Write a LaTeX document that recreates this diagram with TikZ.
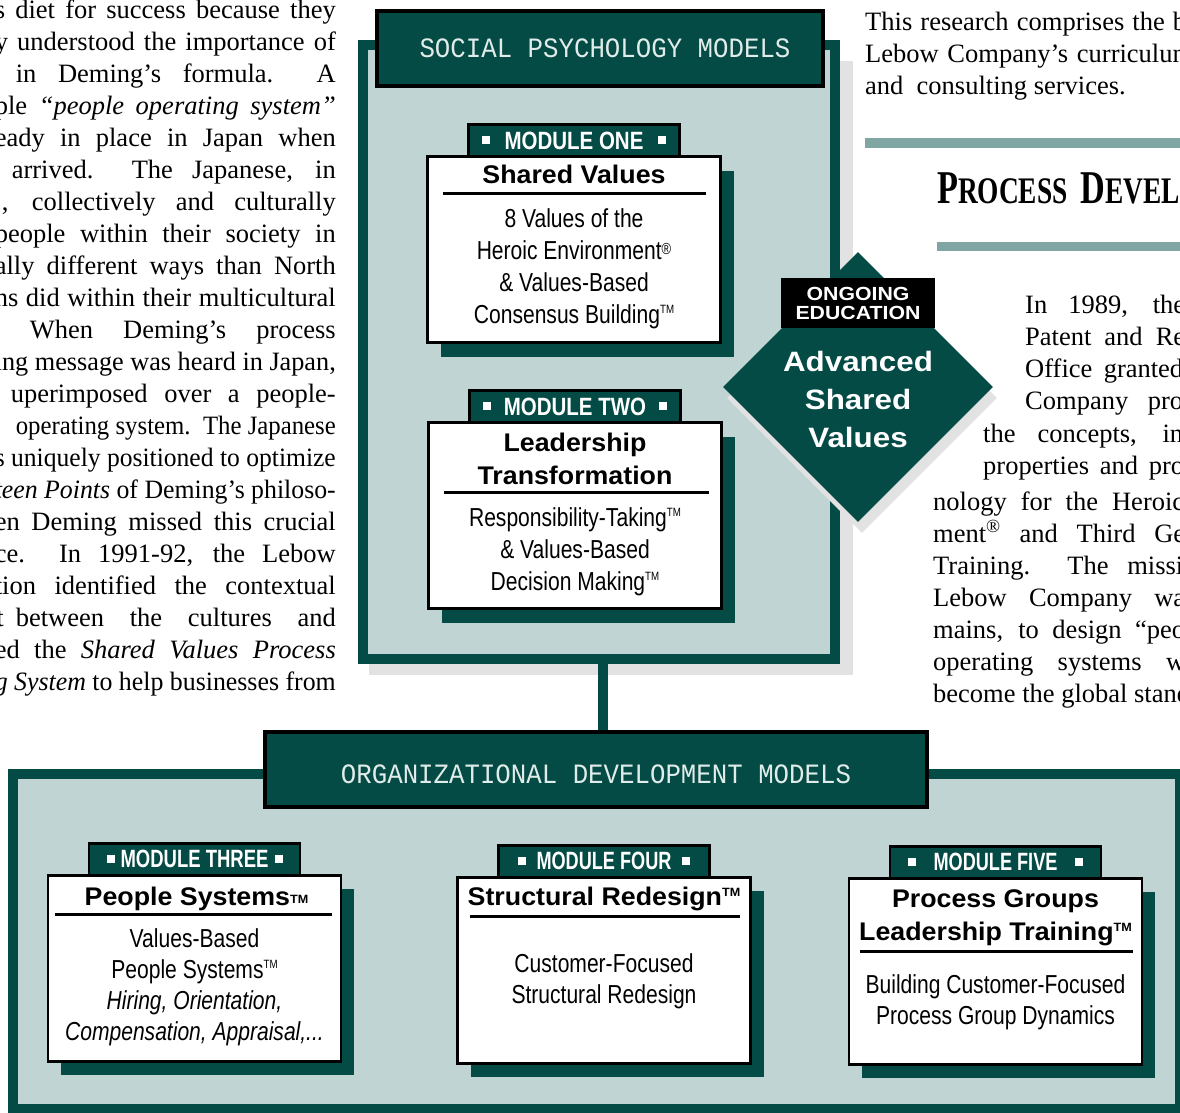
\documentclass[tikz,border=0pt]{standalone}
\usepackage{fontspec}
\setmainfont{Liberation Serif}
\setsansfont{Liberation Sans}
\newfontfamily\condsans[FakeStretch=0.81]{Liberation Sans}
\newfontfamily\widesans[FakeStretch=1.12]{Liberation Sans}
\newfontfamily\titlesans[FakeStretch=1.05]{Liberation Sans}
\newfontfamily\titlemono[FakeStretch=0.92]{Liberation Mono}
\newfontfamily\headserif[FakeStretch=0.73]{Liberation Serif}
\usepackage{graphicx}
\usepackage{tikz}
\usetikzlibrary{shapes.geometric,positioning,calc,shadows}
\definecolor{deepteal}{RGB}{4,74,69}
\definecolor{panelgray}{RGB}{192,212,211}
\definecolor{shadowgray}{RGB}{226,226,226}
\definecolor{barteal}{RGB}{127,166,162}
\definecolor{titlemint}{RGB}{224,236,233}

\newlength{\natw}
\newcommand{\fitline}[2]{\settowidth{\natw}{#2}\ifdim\natw>#1pt\relax\resizebox{#1pt}{\height}{#2}\else\makebox[#1pt][s]{#2}\fi}
\newcommand{\sqr}{\raisebox{5pt}{\rule{8pt}{8pt}}}
\newcommand{\modtag}[3]{\sqr\hspace{#1}\scalebox{#2}[1]{#3}\hspace{#1}\sqr}
\newcommand{\tmk}[1][9.5pt]{\raisebox{#1}{\fontsize{12}{12}\selectfont TM}}
\newcommand{\regk}{\raisebox{5pt}{\fontsize{16}{16}\selectfont ®}}

\begin{document}
\begin{tikzpicture}[
    x=1pt, y=-1pt,
    leftline/.style={anchor=base east, inner sep=0pt, font=\fontsize{26.5}{32}\selectfont},
    rightline/.style={anchor=base west, inner sep=0pt, font=\fontsize{26.5}{32}\selectfont},
    panel/.style={draw=deepteal, fill=panelgray, line width=10pt, inner sep=0pt, outer sep=0pt},
    paneltitle/.style={draw=black, fill=deepteal, line width=4pt, minimum height=75pt, inner sep=0pt, outer sep=0pt, text=titlemint, font=\titlemono\fontsize{28}{28}\selectfont},
    modbox/.style={draw=black, fill=white, line width=2.5pt, minimum width=293pt, minimum height=186pt, inner sep=0pt, outer sep=0pt,
        drop shadow={shadow xshift=13pt, shadow yshift=-14pt, fill=deepteal, opacity=1}},
    modtab/.style={draw=black, fill=deepteal, line width=2.5pt, minimum width=211pt, minimum height=32pt, inner sep=0pt, outer sep=0pt, text=white, font=\sffamily\bfseries\fontsize{25}{25}\selectfont},
    modtitle/.style={anchor=north, inner sep=0pt, align=center, font=\titlesans\bfseries\fontsize{25.5}{33}\selectfont},
    modbody/.style={anchor=north, inner sep=0pt, align=center, font=\condsans\fontsize{26}{32}\selectfont},
    titlerule/.style={line width=3pt, draw=black},
    link/.style={draw=deepteal, line width=10pt},
    bar/.style={fill=barteal}
]
\useasboundingbox (0,0) rectangle (1180,1112);
\clip (0,0) rectangle (1180,1112);

% left column of body text
\node[leftline] (l1) at (336,18) {\fitline{341}{s diet for success because they}};
\node[leftline] (l2) at (336,50) {\fitline{341}{y understood the importance of}};
\node[leftline] (l3) at (336,82) {\fitline{320}{in Deming’s formula.\ \ A}};
\node[leftline] (l4) at (336,114) {\fitline{341}{ple \textit{“people operating system”}}};
\node[leftline] (l5) at (336,146) {\fitline{341}{eady in place in Japan when}};
\node[leftline] (l6) at (336,178) {\fitline{324}{arrived.\ \ The Japanese, in}};
\node[leftline] (l7) at (336,210) {\fitline{334}{, collectively and culturally}};
\node[leftline] (l8) at (336,242) {\fitline{341}{people within their society in}};
\node[leftline] (l9) at (336,274) {\fitline{341}{ally different ways than North}};
\node[leftline] (l10) at (336,306) {\fitline{341}{ns did within their multicultural}};
\node[leftline] (l11) at (336,338) {\fitline{306}{When Deming’s process}};
\node[leftline] (l12) at (336,370) {\fitline{341}{ing message was heard in Japan,}};
\node[leftline] (l13) at (336,402) {\fitline{325}{uperimposed over a people-}};
\node[leftline] (l14) at (336,434) {\fitline{320}{operating system.\ \ The Japanese}};
\node[leftline] (l15) at (336,466) {\fitline{341}{s uniquely positioned to optimize}};
\node[leftline] (l16) at (336,498) {\fitline{341}{\textit{teen Points} of Deming’s philoso-}};
\node[leftline] (l17) at (336,530) {\fitline{341}{en Deming missed this crucial}};
\node[leftline] (l18) at (336,562) {\fitline{341}{ce.\ \ In 1991-92, the Lebow}};
\node[leftline] (l19) at (336,594) {\fitline{341}{tion identified the contextual}};
\node[leftline] (l20) at (336,626) {t\hspace{12pt}\fitline{320}{between the cultures and}};
\node[leftline] (l21) at (336,658) {\fitline{341}{ed the \textit{Shared Values Process}}};
\node[leftline] (l22) at (336,690) {\fitline{341}{\textit{g System} to help businesses from}};

% right column of body text
\node[rightline] (r1) at (865,30) {\fitline{321}{This research comprises the b}};
\node[rightline] (r2) at (865,62) {\fitline{328}{Lebow Company’s curriculum}};
\node[rightline] (r3) at (865,94) {and\ \ consulting services.};
\fill[bar] (865,138) rectangle (1190,148);
\node[anchor=base west, inner sep=0pt, font=\headserif\bfseries] (head) at (937,203)
    {{\fontsize{47}{47}\selectfont P}{\fontsize{37.5}{47}\selectfont ROCESS}\hspace{13pt}{\fontsize{47}{47}\selectfont D}{\fontsize{37.5}{47}\selectfont EVELOPMENT}};
\fill[bar] (937,242) rectangle (1190,251);
\node[rightline] (r4) at (1025,313) {\fitline{160}{In 1989, the}};
\node[rightline] (r5) at (1025,345) {\fitline{160}{Patent and Re}};
\node[rightline] (r6) at (1025,377) {\fitline{158}{Office granted}};
\node[rightline] (r7) at (1025,409) {\fitline{158}{Company pro}};
\node[rightline] (r8) at (983,442) {\fitline{200}{the concepts, in}};
\node[rightline] (r9) at (983,474) {\fitline{201}{properties and pro}};
\node[rightline] (r10) at (933,510) {\fitline{251}{nology for the Heroic}};
\node[rightline] (r11) at (933,542) {\fitline{252}{ment\textsuperscript{®} and Third Ge}};
\node[rightline] (r12) at (933,574) {\fitline{250}{Training.\ \ The missi}};
\node[rightline] (r13) at (933,606) {\fitline{252}{Lebow Company wa}};
\node[rightline] (r14) at (933,638) {\fitline{252}{mains, to design “peo}};
\node[rightline] (r15) at (933,670) {\fitline{252}{operating systems w}};
\node[rightline] (r16) at (933,702) {become the global stand};

% lower panel
\node[panel, minimum width=1167pt, minimum height=335pt] (orgpanel) at (596.5,941.5) {};
\node[paneltitle, minimum width=662pt, text height=28.5pt, text depth=0pt] (orgtitle) at (596,769.5) {ORGANIZATIONAL DEVELOPMENT MODELS};

% upper panel
\fill[shadowgray] (369,61) rectangle (853,675);
\node[panel, minimum width=472pt, minimum height=614pt] (social) at (599,352) {};
\node[paneltitle, minimum width=446pt] (socialtitle) at (600,48.5) {\hspace*{10pt}SOCIAL PSYCHOLOGY MODELS};
\draw[link] ([xshift=4pt]social.south) -- ([xshift=4pt,yshift=2pt]social.south |- orgtitle.north);

% module one
\node[modbox] (m1) at (574,249.5) {};
\node[modtab, above=0pt of m1] (m1tab) {\modtag{15pt}{0.82}{MODULE ONE}};
\node[modtitle] (m1title) at ($(m1.north)+(0,8)$) {Shared Values};
\draw[titlerule] ($(m1.north west)+(15,36.5)$) -- ($(m1.north east)+(-15,36.5)$);
\node[modbody] (m1text) at ($(m1.north)+(0,51.6)$)
    {8 Values of the\\Heroic Environment\regk\\\& Values-Based\\Consensus Building\tmk};

% module two
\node[modbox] (m2) at (575,515.5) {};
\node[modtab, above=0pt of m2] (m2tab) {\modtag{13pt}{0.82}{MODULE TWO}};
\node[modtitle] (m2title) at ($(m2.north)+(0,10)$) {Leadership\\Transformation};
\draw[titlerule] ($(m2.north west)+(15,69.5)$) -- ($(m2.north east)+(-13,69.5)$);
\node[modbody] (m2text) at ($(m2.north)+(0,84.6)$)
    {Responsibility-Taking\tmk\\\& Values-Based\\Decision Making\tmk};

% module three
\node[modbox] (m3) at (194.5,968.25) {};
\node[modtab, above=0pt of m3] (m3tab) {\modtag{6pt}{0.74}{MODULE THREE}};
\node[modtitle] (m3title) at ($(m3.north)+(2,11.2)$) {People Systems\tmk[2pt]};
\draw[titlerule] ($(m3.north west)+(7,38.75)$) -- ($(m3.north east)+(-9,38.75)$);
\node[modbody, font=\condsans\fontsize{26}{31}\selectfont] (m3text) at ($(m3.north)+(0,52.85)$)
    {Values-Based\\People Systems\tmk\\\textit{Hiring, Orientation,}\\\textit{Compensation, Appraisal,...}};

% module four
\node[modbox] (m4) at (604,970.25) {};
\node[modtab, above=0pt of m4] (m4tab) {\modtag{11pt}{0.725}{MODULE FOUR}};
\node[modtitle] (m4title) at ($(m4.north)+(0,9.2)$) {Structural Redesign\tmk[9pt]};
\draw[titlerule] ($(m4.north west)+(12,38.75)$) -- ($(m4.north east)+(-11,38.75)$);
\node[modbody, font=\condsans\fontsize{26}{31}\selectfont] (m4text) at ($(m4.north)+(0,75.85)$)
    {Customer-Focused\\Structural Redesign};

% module five
\node[modbox] (m5) at (995.5,971.25) {};
\node[modtab, above=0pt of m5] (m5tab) {\modtag{18pt}{0.725}{MODULE FIVE}};
\node[modtitle] (m5title) at ($(m5.north)+(0,11.2)$) {Process Groups\\Leadership Training\tmk[9pt]};
\draw[titlerule] ($(m5.north west)+(11,72.75)$) -- ($(m5.north east)+(-9,72.75)$);
\node[modbody, font=\condsans\fontsize{26}{31}\selectfont] (m5text) at ($(m5.north)+(0,95.85)$)
    {Building Customer-Focused\\Process Group Dynamics};

% ongoing education diamond
\node[diamond, aspect=1, fill=deepteal, minimum width=270pt, minimum height=270pt, inner sep=0pt,
    drop shadow={shadow xshift=4pt, shadow yshift=-11pt, fill=shadowgray, opacity=1}] (adv) at (858,387) {};
\node[fill=black, minimum width=154pt, minimum height=50pt, inner sep=0pt, text=white, align=center,
    font=\widesans\bfseries\fontsize{19}{19}\selectfont] (ongoing) at (858,303) {ONGOING\\EDUCATION};
\node[inner sep=0pt, text=white, align=center, font=\widesans\bfseries\fontsize{28}{38}\selectfont] (advtext) at (858,399)
    {Advanced\\Shared\\Values};
\end{tikzpicture}
\end{document}
